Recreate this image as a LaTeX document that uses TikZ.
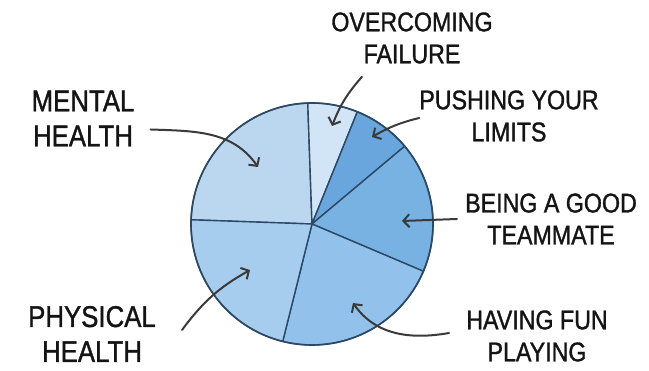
\documentclass[tikz,border=0pt]{standalone}
\usepackage{fontspec}
\setmainfont{Liberation Sans}[FakeStretch=0.86, FakeBold=1.2]
\usetikzlibrary{arrows.meta}
\definecolor{rim}{HTML}{2B4966}
\definecolor{pointgray}{HTML}{3A3A3A}
\definecolor{mentalc}{HTML}{BBD7EF}
\definecolor{overc}{HTML}{D2E5F6}
\definecolor{pushc}{HTML}{69A6DD}
\definecolor{teamc}{HTML}{78B2E3}
\definecolor{func}{HTML}{92C2EB}
\definecolor{physc}{HTML}{A6CCEE}
\tikzset{
    lbl/.style={align=center, inner sep=0pt, text=black!92, font=\fontsize{27}{32}\selectfont},
    biglbl/.style={lbl, font=\fontsize{30}{35}\selectfont},
    pointer/.style={draw=pointgray, line width=2pt, line cap=round, -{Straight Barb[length=6pt,width=13pt]}},
}

\begin{document}
\begin{tikzpicture}[x=1pt,y=1pt]
        \useasboundingbox (0,0) rectangle (649,371);
        \coordinate (c) at (312,147);

        \foreach \a/\b/\col in {92/178/mentalc, 68/92/overc, 40/68/pushc, -23/40/teamc, -104/-23/func, -182/-104/physc} {
            \draw [rim, line width=1.4pt, fill=\col, line join=round] (c) -- ++(\a:121) arc[start angle=\a, end angle=\b, radius=121] -- cycle;
        }
        \draw [rim, line width=1.6pt] (c) circle[radius=121];

        \node [lbl] (over) at (412,333) {OVERCOMING\\FAILURE};
        \node [lbl] (push) at (509,255) {PUSHING YOUR\\LIMITS};
        \node [lbl] (team) at (551,152) {BEING A GOOD\\TEAMMATE};
        \node [lbl] (fun) at (537,35) {HAVING FUN\\PLAYING};
        \node [biglbl] (mental) at (83,252.5) {MENTAL\\HEALTH};
        \node [biglbl] (phys) at (92,37) {PHYSICAL\\HEALTH};

        \coordinate (tipmental) at (258,204);
        \coordinate (tipover) at (332,245);
        \coordinate (tippush) at (372,234);
        \coordinate (tipteam) at (402,150);
        \coordinate (tipfun) at (353,68);
        \coordinate (tipphys) at (250,101);

        \draw [pointer] ([xshift=16pt,yshift=-11pt]mental.east) to[out=-2, in=125] (tipmental);
        \draw [pointer] ([xshift=-50pt,yshift=-13pt]over.south) to[bend right=10] (tipover);
        \draw [pointer] ([yshift=-2pt]push.west) to[bend right=8] (tippush);
        \draw [pointer] ([xshift=-8pt]team.west) -- (tipteam);
        \draw [pointer] ([xshift=-17pt,yshift=3pt]fun.west) to[out=190, in=-55] (tipfun);
        \draw [pointer] ([xshift=26pt,yshift=4pt]phys.east) to[bend left=12] (tipphys);
\end{tikzpicture}
\end{document}
